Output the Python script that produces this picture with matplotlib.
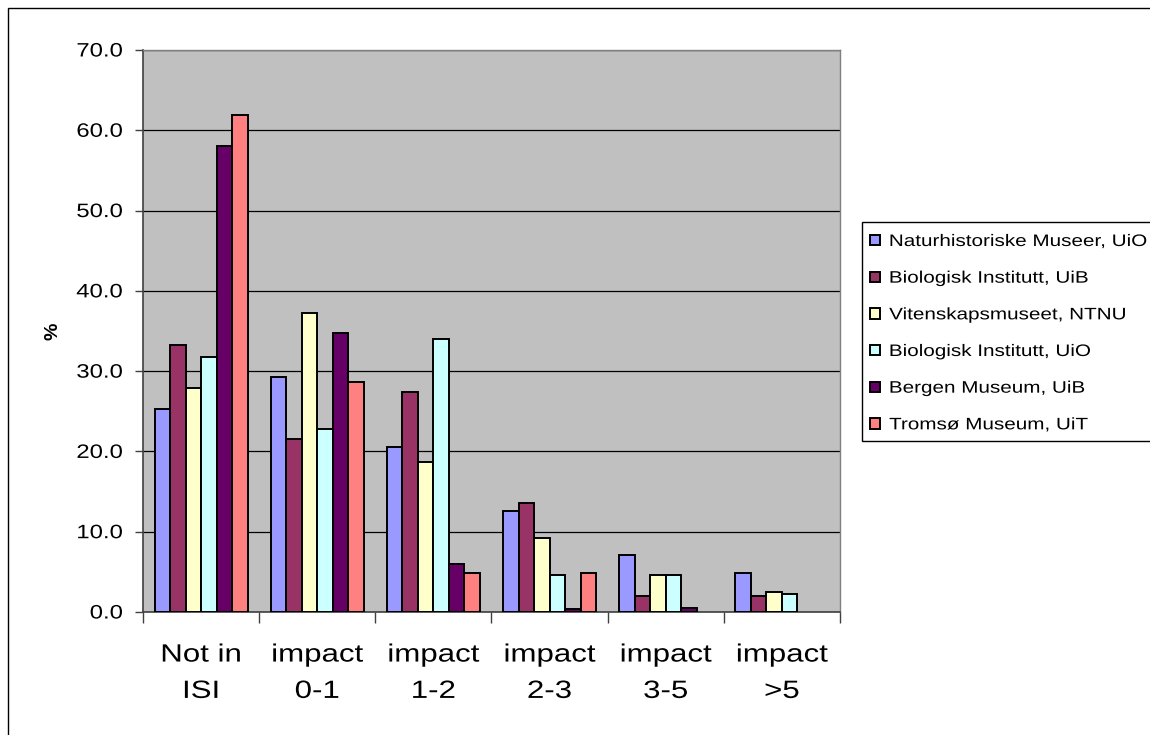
import matplotlib
matplotlib.use("Agg")
import matplotlib.pyplot as plt
from matplotlib.patches import Rectangle
from matplotlib.patheffects import AbstractPathEffect
from matplotlib.transforms import Affine2D
import numpy as np

plt.rcParams['font.family'] = ['Liberation Sans', 'DejaVu Sans']

categories = ["Not in\nISI", "impact\n0-1", "impact\n1-2", "impact\n2-3", "impact\n3-5", "impact\n>5"]
series_names = [
    "Naturhistoriske Museer, UiO",
    "Biologisk Institutt, UiB",
    "Vitenskapsmuseet, NTNU",
    "Biologisk Institutt, UiO",
    "Bergen Museum, UiB",
    "Tromsø Museum, UiT",
]
nhm_uio = [25.3, 29.3, 20.6, 12.6, 7.1, 4.9]
bio_uib = [33.2, 21.6, 27.4, 13.6, 2.0, 2.0]
vm_ntnu = [27.9, 37.2, 18.7, 9.2, 4.6, 2.5]
bio_uio = [31.8, 22.8, 34.0, 4.6, 4.6, 2.2]
bm_uib = [58.0, 34.8, 6.0, 0.4, 0.5, 0.0]
tm_uit = [61.9, 28.7, 4.8, 4.8, 0.0, 0.0]
series_values = [nhm_uio, bio_uib, vm_ntnu, bio_uio, bm_uib, tm_uit]
colors = ["#9999FF", "#993366", "#FFFFCC", "#CCFFFF", "#660066", "#FF8080"]
y_ticks = [0, 10, 20, 30, 40, 50, 60, 70]


class HStretch(AbstractPathEffect):
    """Widen glyphs horizontally about the left, centre or right of the text."""

    def __init__(self, sx, anchor="center"):
        super().__init__()
        self.sx = sx
        self.anchor = anchor

    def draw_path(self, renderer, gc, tpath, affine, rgbFace=None):
        ext = tpath.get_extents(affine)
        if self.anchor == "left":
            cx = ext.x0
        elif self.anchor == "right":
            cx = ext.x1
        else:
            cx = 0.5 * (ext.x0 + ext.x1)
        stretch = Affine2D().translate(-cx, 0).scale(self.sx, 1).translate(cx, 0)
        renderer.draw_path(gc, tpath, affine + stretch, rgbFace)


W, H = 1150, 735
fig = plt.figure(figsize=(W / 100, H / 100), dpi=100)
fig.patch.set_facecolor("white")
# outer chart frame (runs off the right and bottom edges)
fig.patches.append(Rectangle((8 / W, -0.05), 1.5, 1.05 - 8 / H,
                             transform=fig.transFigure, fill=False,
                             edgecolor="black", linewidth=1.0))

ax = fig.add_axes([143 / W, 1 - 612 / H, 697 / W, 562 / H])
ax.set_facecolor("#C0C0C0")

n = len(series_values)
bw = 1 / 7.5
x = np.arange(len(categories))
handles = []
for i, (vals, col, name) in enumerate(zip(series_values, colors, series_names)):
    offs = (i - (n - 1) / 2) * bw
    heights = [v if v > 0 else np.nan for v in vals]
    h = ax.bar(x + offs, heights, width=bw, color=col, edgecolor="black",
               linewidth=1.4, label=name, zorder=3)
    handles.append(h)

ax.set_xlim(-0.5, len(categories) - 0.5)
ax.set_ylim(0, 70)
ax.set_yticks(y_ticks)
ax.set_yticklabels([f"{t:.1f}" for t in y_ticks], fontsize=14)
ax.yaxis.grid(True, color="black", linewidth=0.9, zorder=1)
ax.set_axisbelow(True)

ax.set_xticks(np.arange(len(categories) + 1) - 0.5)
ax.set_xticklabels([])
ax.set_xticks(x, minor=True)
ax.set_xticklabels(categories, minor=True, fontsize=18, linespacing=1.65)
ax.tick_params(axis="x", which="minor", length=0, pad=22)
ax.tick_params(axis="x", which="major", length=8, width=1, color="#404040", direction="out")
ax.tick_params(axis="y", length=6, width=1, color="#404040", direction="out", pad=8.5)

for lab in ax.get_yticklabels():
    lab.set_path_effects([HStretch(1.23, "right")])
for lab in ax.get_xticklabels(minor=True):
    lab.set_path_effects([HStretch(1.25, "center")])

ax.set_ylabel("%", fontsize=14, fontweight="bold")
ax.yaxis.set_label_coords(-0.117, 0.5)

for side in ("left", "bottom"):
    ax.spines[side].set_color("#404040")
    ax.spines[side].set_linewidth(1.2)
for side in ("top", "right"):
    ax.spines[side].set_color("#808080")
    ax.spines[side].set_linewidth(1.0)

# legend box (runs off the right edge)
fig.patches.append(Rectangle((862 / W, 1 - 441 / H), 0.5, 219 / H,
                             transform=fig.transFigure, facecolor="white",
                             edgecolor="black", linewidth=1.0, zorder=5))
leg = fig.legend(handles=handles, labels=series_names, loc="upper left",
                 bbox_to_anchor=(870 / W, 1 - 234 / H),
                 fontsize=12, frameon=False,
                 handlelength=0.6, handleheight=0.6, handletextpad=0.55,
                 labelspacing=1.3, borderpad=0.0, borderaxespad=0)
leg.set_zorder(6)
for t in leg.get_texts():
    t.set_path_effects([HStretch(1.24, "left")])

fig.savefig("out.png", dpi=100, facecolor="white")
